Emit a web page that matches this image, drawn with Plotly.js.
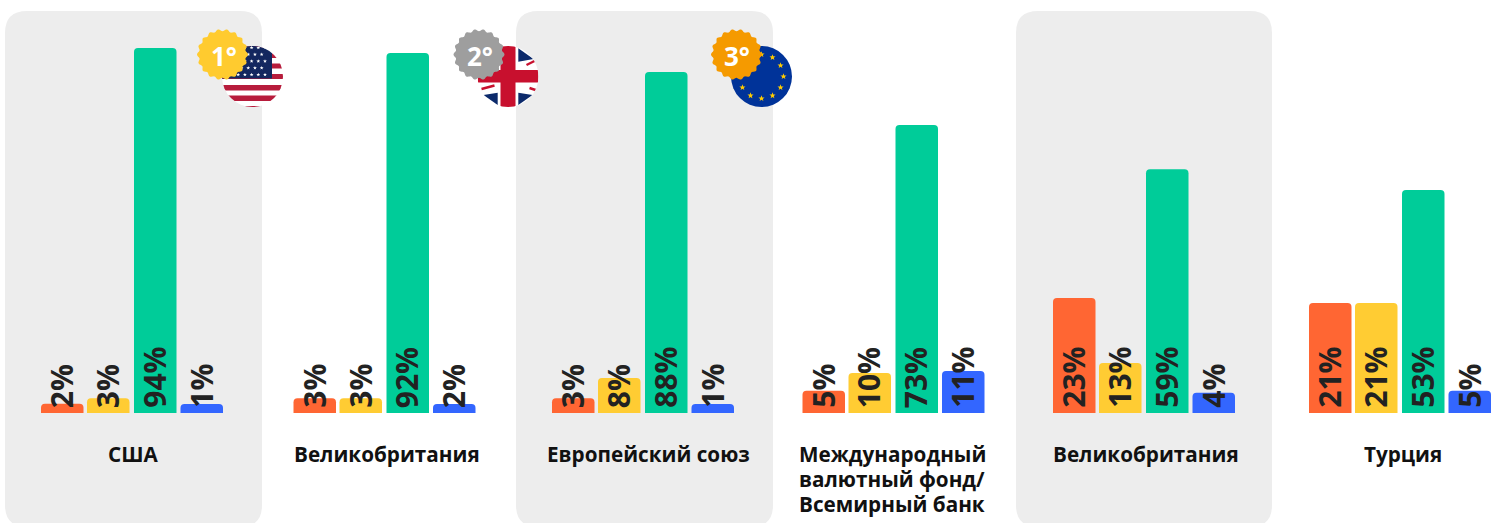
<!DOCTYPE html>
<html><head><meta charset="utf-8">
<script src="https://cdn.plot.ly/plotly-3.0.1.min.js"></script>
<style>html,body{margin:0;padding:0;background:#fff;overflow:hidden}#c{width:1499px;height:523px}</style>
</head><body><div id="c"></div>
<script>
const categories = ['США','Великобритания','Европейский союз','Международный<br>валютный фонд/<br>Всемирный банк','Великобритания','Турция'];
const groupCenters = [132, 384.5, 643, 893.5, 1144, 1400];
const labelNudge = [1, 2.5, 5, -1.5, 1.5, 2.5];
const seriesNames = ['Красный','Жёлтый','Зелёный','Синий'];
const seriesColors = ['#ff6633','#ffcc33','#00cc99','#3366ff'];
// Printed percentages
const pctRed    = [2,3,3,5,23,21];
const pctYellow = [3,3,8,10,13,21];
const pctGreen  = [94,92,88,73,59,53];
const pctBlue   = [1,2,1,11,4,5];
// Bar heights (they are not strictly proportional to the printed numbers)
const heightRed    = [2.4,3.8,3.8,5.7,29.6,28.3];
const heightYellow = [3.8,3.8,9.0,10.3,12.9,28.3];
const heightGreen  = [94,92.7,87.8,74.2,62.8,57.4];
const heightBlue   = [2.3,2.3,2.3,10.8,5.2,5.7];

const heights=[heightRed,heightYellow,heightGreen,heightBlue];
const pcts=[pctRed,pctYellow,pctGreen,pctBlue];
const offsets=[-91,-45,2,48.5];
const barWidth=42.5;
const traces=seriesNames.map((n,i)=>({
  type:'bar',name:n,x:groupCenters,y:heights[i],width:barWidth,offset:offsets[i],
  marker:{color:seriesColors[i],line:{width:0}},hoverinfo:'skip'
}));
const pxPerUnit=365/94, baseY=413;
const yv=p=>(baseY-p)/pxPerUnit;
const panels=[[5,262],[516,773],[1016,1272]];
const shapes=panels.map(p=>{
  const r=22,ry=r/pxPerUnit,x0=p[0],x1=p[1],yt=yv(11),yb=yv(527);
  return {type:'path',xref:'x',yref:'y',layer:'below',line:{width:0},fillcolor:'#ededed',
    path:`M${x0},${yt-ry}Q${x0},${yt} ${x0+r},${yt}L${x1-r},${yt}Q${x1},${yt} ${x1},${yt-ry}L${x1},${yb+ry}Q${x1},${yb} ${x1-r},${yb}L${x0+r},${yb}Q${x0},${yb} ${x0},${yb+ry}Z`};
});
function svgUri(s){return 'data:image/svg+xml;charset=utf-8,'+encodeURIComponent(s);}
function clipWrap(inner){return `<svg xmlns="http://www.w3.org/2000/svg" width="244" height="244" viewBox="0 0 61 61"><defs><clipPath id="k"><circle cx="30.5" cy="30.5" r="30.5"/></clipPath></defs><g clip-path="url(#k)">${inner}</g></svg>`;}
function star(cx,cy,r,col){let d='';for(let i=0;i<10;i++){const a=-Math.PI/2+i*Math.PI/5,q=i%2?r*0.42:r;d+=(i?'L':'M')+(cx+q*Math.cos(a)).toFixed(2)+','+(cy+q*Math.sin(a)).toFixed(2);}return `<path d="${d}Z" fill="${col}"/>`;}
function usFlag(){let s='<rect width="61" height="61" fill="#fff"/>';
  [[-3,4.5],[7,5],[17.5,5],[28,5],[39,5.5],[49.5,5.5],[60,2]].forEach(r=>s+=`<rect x="0" y="${r[0]}" width="61" height="${r[1]}" fill="#b71c3c"/>`);
  s+='<rect width="50" height="32.5" fill="#13275f"/>';
  for(let r=0;r<5;r++)for(let c=0;c<8;c++){s+=star(43-c*6.7-(r%2?3.35:0),1.7+r*6.75,2,'#fff');}
  return clipWrap(s);}
function ukFlag(){const b='#0c2a6b',w='#fff',d='#c8102e';
  let s=`<rect width="61" height="61" fill="${w}"/>`;
  [[[40.8,2.3],[56,13],[40.8,15.7]],[[40.8,46.7],[40.8,59],[55,49]],[[20.2,46.7],[20.2,59],[6,49]],[[20.2,2.3],[5,13],[20.2,15.7]]]
    .forEach(t=>s+=`<polygon points="${t.map(p=>p.join(',')).join(' ')}" fill="${b}"/>`);
  s+=`<path d="M49,19L60,13.5M12,19L1,13.5M52,42L61,45M4,43L17,39.5" stroke="${d}" stroke-width="2.4" fill="none"/>`;
  s+=`<rect x="23" width="15" height="61" fill="${d}"/><rect y="24" width="61" height="12.5" fill="${d}"/>`;
  return clipWrap(s);}
function euFlag(){let s='<rect width="61" height="61" fill="#003399"/>';
  for(let i=0;i<12;i++){const a=i*Math.PI/6;s+=star(30.5+22*Math.sin(a),30.5-22*Math.cos(a),3.2,'#ffcc00');}
  return clipWrap(s);}
function badge(col){let d='';const n=18,R=25.5,steps=n*12;
  for(let i=0;i<steps;i++){const a=i/steps*2*Math.PI,q=R-1.1+1.1*Math.cos(n*a);d+=(i?'L':'M')+(26+q*Math.cos(a)).toFixed(2)+','+(26+q*Math.sin(a)).toFixed(2);}
  return `<svg xmlns="http://www.w3.org/2000/svg" width="208" height="208" viewBox="0 0 52 52"><path d="${d}Z" fill="${col}"/></svg>`;}
function img(svg,cx,cy,w){return {source:svgUri(svg),xref:'x',yref:'y',x:cx-w/2,y:yv(cy-w/2),sizex:w,sizey:w/pxPerUnit,xanchor:'left',yanchor:'top',sizing:'stretch',layer:'above'};}
const images=[
  img(usFlag(),252.5,76.5,61),img(ukFlag(),508,76.5,61),img(euFlag(),761.5,76.5,61),
  img(badge('#ffcb2f'),222.5,54.5,52),img(badge('#9e9e9e'),479,54.5,52),img(badge('#f59a00'),736.5,54.5,52)
];
const ranks=[['1°',224],['2°',480],['3°',737]];
const annotations=ranks.map(r=>({xref:'x',yref:'y',x:r[1],y:yv(56),text:'<b>'+r[0]+'</b>',showarrow:false,font:{family:'Open Sans',size:26,color:'#fff'}}));
pcts.forEach((arr,s)=>arr.forEach((v,g)=>annotations.push({
  xref:'x',yref:'y',x:groupCenters[g]+offsets[s]+barWidth/2-1,y:0,yanchor:'bottom',xanchor:'center',yshift:4,
  text:'<b>'+v+'%</b>',textangle:-90,showarrow:false,borderpad:0,
  font:{family:'Open Sans',size:30,color:'#222222'}
})));
categories.forEach((c,i)=>c.split('<br>').forEach((line,k)=>annotations.push({
  xref:'x',yref:'y',x:groupCenters[i]+labelNudge[i],y:yv(454+25*k),yanchor:'middle',
  text:'<b>'+line+'</b>',showarrow:false,font:{family:'Open Sans',size:20.7,color:'#111'}
})));
const layout={
  width:1499,height:523,margin:{l:0,r:0,t:0,b:0,pad:0},paper_bgcolor:'#fff',plot_bgcolor:'rgba(0,0,0,0)',
  showlegend:false,barmode:'overlay',barcornerradius:4,shapes,images,annotations,
  xaxis:{range:[0,1499],showgrid:false,zeroline:false,showline:false,fixedrange:true,tickmode:'array',tickvals:[],ticktext:[]},
  yaxis:{range:[yv(523),yv(0)],showgrid:false,zeroline:false,showline:false,showticklabels:false,fixedrange:true}
};
Plotly.newPlot('c',traces,layout,{displayModeBar:false,staticPlot:true});
</script></body></html>
